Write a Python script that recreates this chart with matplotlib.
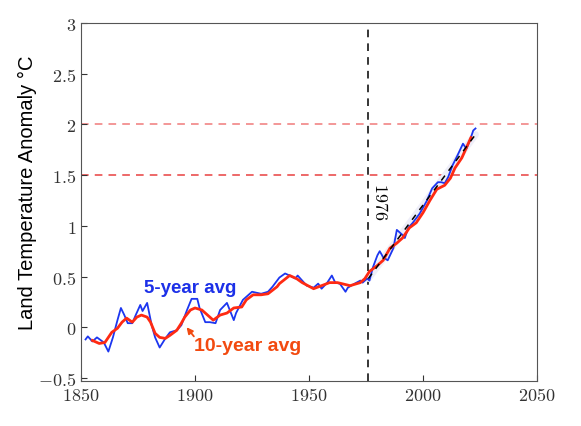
import numpy as np
import matplotlib
matplotlib.use("Agg")
import matplotlib.pyplot as plt
from matplotlib.ticker import FuncFormatter

plt.rcParams['mathtext.fontset'] = 'cm'

# 5-year running mean (blue)
yr5 = [1852, 1853, 1855, 1857, 1860, 1862, 1864, 1866, 1867.5, 1869, 1870.5, 1872.5,
       1874, 1876, 1877, 1879, 1881, 1882.5, 1884.5, 1887, 1889, 1892, 1894, 1896.5,
       1898.5, 1901, 1902, 1904.5, 1906.5, 1909, 1911, 1914, 1917, 1918, 1921, 1925,
       1929, 1932, 1934, 1937, 1939.5, 1941.5, 1944, 1945, 1947, 1949, 1952, 1954,
       1955.5, 1958, 1960, 1961.5, 1963.5, 1966, 1967, 1970, 1972.5, 1973.5, 1975.5,
       1976.5, 1978, 1980, 1981, 1982.5, 1984.5, 1987, 1988.5, 1991, 1992, 1993.5,
       1995.5, 1998.5, 2001.5, 2004, 2006.5, 2008, 2009.5, 2011, 2013, 2015, 2017.5,
       2019, 2020.5, 2022, 2023]
avg5 = [-0.12, -0.09, -0.14, -0.10, -0.15, -0.24, -0.10, 0.07, 0.19, 0.12, 0.04, 0.04,
        0.12, 0.22, 0.16, 0.24, 0.02, -0.10, -0.20, -0.11, -0.05, -0.03, 0.02, 0.17,
        0.28, 0.28, 0.19, 0.05, 0.05, 0.04, 0.17, 0.24, 0.07, 0.14, 0.27, 0.35,
        0.33, 0.35, 0.40, 0.49, 0.53, 0.51, 0.48, 0.51, 0.46, 0.41, 0.39, 0.43,
        0.38, 0.44, 0.51, 0.44, 0.43, 0.35, 0.39, 0.43, 0.46, 0.44, 0.48,
        0.46, 0.59, 0.71, 0.75, 0.69, 0.66, 0.78, 0.96, 0.91, 0.88, 0.98,
        1.03, 1.12, 1.24, 1.37, 1.43, 1.43, 1.42, 1.48, 1.60, 1.69, 1.81,
        1.76, 1.84, 1.94, 1.96]

# 10-year running mean (red)
yr10 = [1855, 1858, 1860.5, 1863.5, 1866, 1868, 1870, 1872.5, 1874.5, 1876.5, 1879,
        1880.5, 1882.5, 1884.5, 1887, 1889, 1892, 1894, 1895.5, 1898, 1900, 1903,
        1905.5, 1908, 1911, 1914, 1917, 1920.5, 1922.5, 1925.5, 1929, 1932, 1936,
        1937, 1941.5, 1944.5, 1947, 1952, 1955.5, 1959, 1962.5, 1968, 1972.5, 1974.5,
        1976.5, 1980, 1982.5, 1985.5, 1988.5, 1991, 1994, 1997, 2000, 2003, 2006,
        2009.5, 2012, 2014, 2017, 2019, 2021]
avg10 = [-0.13, -0.16, -0.15, -0.05, -0.01, 0.05, 0.09, 0.05, 0.10, 0.12, 0.10,
         0.05, -0.06, -0.10, -0.11, -0.08, -0.03, 0.04, 0.10, 0.17, 0.19, 0.17,
         0.12, 0.07, 0.12, 0.14, 0.19, 0.20, 0.27, 0.32, 0.32, 0.33, 0.40,
         0.43, 0.51, 0.48, 0.44, 0.38, 0.41, 0.44, 0.44, 0.41, 0.44, 0.48,
         0.55, 0.61, 0.66, 0.78, 0.83, 0.88, 0.98, 1.03, 1.13, 1.25, 1.36,
         1.40, 1.47, 1.57, 1.67, 1.77, 1.87]

# linear trend since 1976
trend_yr = [1976, 2023]
trend_val = [0.48, 1.90]

xticks = [1850, 1900, 1950, 2000, 2050]
yticks = [-0.5, 0, 0.5, 1, 1.5, 2, 2.5, 3]

fig = plt.figure(figsize=(5.81, 4.27), dpi=100)
ax = fig.add_axes([0.1394, 0.1054, 0.785, 0.8384])

ax.axhline(2.0, color='#f07a7a', ls=(0, (5, 4)), lw=1.1, zorder=1)
ax.axhline(1.5, color='#e84040', ls=(0, (5, 4)), lw=1.1, zorder=1)
ax.axvline(1976, color='black', ls=(0, (5, 4)), lw=1.1, zorder=1)

ax.plot(trend_yr, trend_val, color='#eeeef9', lw=5, solid_capstyle='round', zorder=2)
ax.plot(yr5, avg5, color='#1c36f0', lw=1.3, zorder=3)
ax.plot(yr10, avg10, color='#ff2a12', lw=2.0, zorder=4)
ax.plot(trend_yr, trend_val, color='black', ls=(0, (4, 4)), lw=1.1, zorder=5)

ax.text(1897.8, 0.39, '5-year avg', color='#1c30e8', fontsize=13.5, fontweight='bold',
        family='Liberation Sans', ha='center', va='center')
ax.text(1923, -0.18, '10-year avg', color='#f24a10', fontsize=14, fontweight='bold',
        family='Liberation Sans', ha='center', va='center')
ax.annotate('', xy=(1896.3, 0.0), xytext=(1899.5, -0.09),
            arrowprops=dict(arrowstyle='-|>', color='#f24a10', lw=1.3, mutation_scale=9,
                            shrinkA=0, shrinkB=0))
ax.text(1981, 1.25, r'$1976$', rotation=270, fontsize=13, ha='center', va='center')

ax.set_xlim(1850, 2050)
ax.set_ylim(-0.53, 3)
ax.set_xticks(xticks)
ax.set_yticks(yticks)
ax.xaxis.set_major_formatter(FuncFormatter(lambda v, p: r'$%g$' % v))
ax.yaxis.set_major_formatter(FuncFormatter(lambda v, p: r'$%g$' % v))
ax.tick_params(direction='in', length=4, labelsize=13, colors='#333333', width=0.8)
for s in ax.spines.values():
    s.set_color('#555555')
    s.set_linewidth(0.8)

ax.set_ylabel('Land Temperature Anomaly °C', family='Liberation Sans', fontsize=14.5)
ax.yaxis.set_label_coords(-0.097, 0.53)

fig.savefig('out.png', dpi=100)
